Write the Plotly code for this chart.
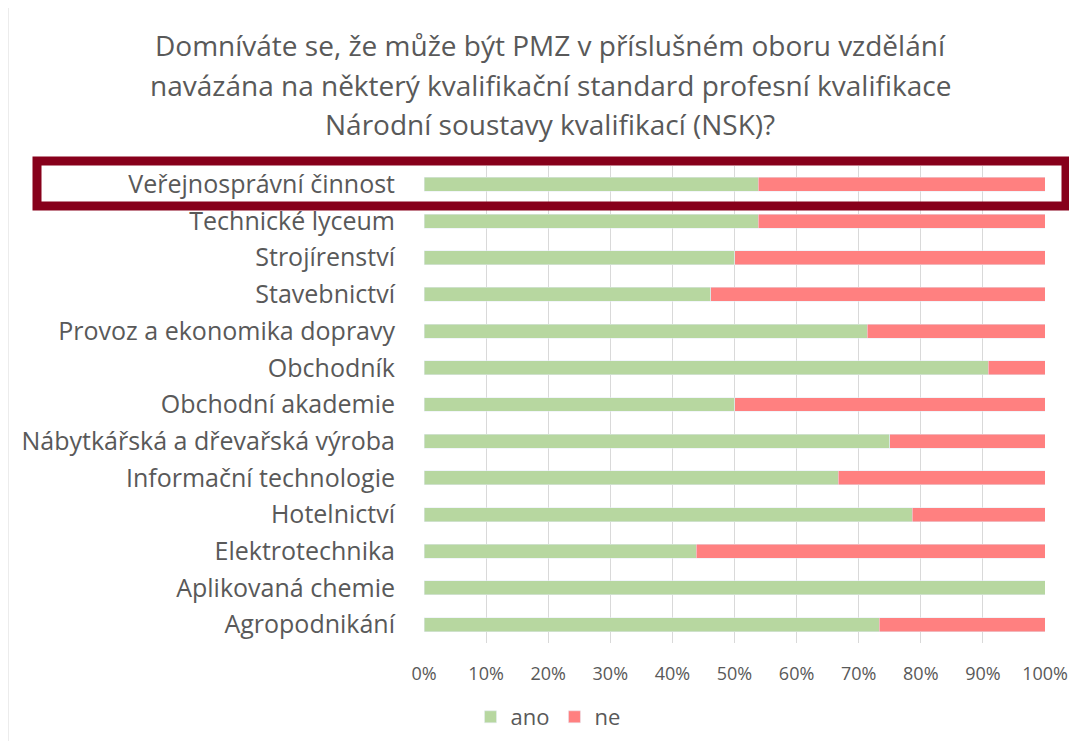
import plotly.graph_objects as go

# data (percent share of answers), bottom to top
obory = [
    "Agropodnikání",
    "Aplikovaná chemie",
    "Elektrotechnika",
    "Hotelnictví",
    "Informační technologie",
    "Nábytkářská a dřevařská výroba",
    "Obchodní akademie",
    "Obchodník",
    "Provoz a ekonomika dopravy",
    "Stavebnictví",
    "Strojírenství",
    "Technické lyceum",
    "Veřejnosprávní činnost",
]
ano = [73.3, 100.0, 43.8, 78.6, 66.7, 75.0, 50.0, 90.9, 71.4, 46.2, 50.0, 53.8, 53.8]
ne = [100 - v for v in ano]

x_ticks = [0, 10, 20, 30, 40, 50, 60, 70, 80, 90, 100]
x_tick_labels = [f"{t}%" for t in x_ticks]

title_lines = [
    "Domníváte se, že může být PMZ v příslušném oboru vzdělání",
    "navázána na některý kvalifikační standard profesní kvalifikace",
    "Národní soustavy kvalifikací (NSK)?",
]

font_family = "Open Sans"
text_color = "#595959"

# page has an 8px body margin, so the figure is a bit smaller than the window
W, H = 1069, 733
L, R, T, B = 416, 32, 158, 98
plot_w = W - L - R
plot_h = H - T - B


def px_x(x):
    return (x - 8 - L) / plot_w


def px_y(y):
    return (H - B - (y - 8)) / plot_h


fig = go.Figure()
fig.add_trace(go.Bar(y=obory, x=ano, name="ano", orientation="h", marker_color="#B7D7A0"))
fig.add_trace(go.Bar(y=obory, x=ne, name="ne", orientation="h", marker_color="#FF8080"))

fig.update_layout(
    width=W,
    height=H,
    barmode="stack",
    bargap=0.62,
    plot_bgcolor="#FFFFFF",
    paper_bgcolor="#FFFFFF",
    margin=dict(l=L, r=R, t=T, b=B, autoexpand=False),
    font=dict(family=font_family, size=22, color=text_color),
    legend=dict(
        orientation="h",
        x=px_x(548),
        xanchor="center",
        y=px_y(717),
        yanchor="middle",
        font=dict(size=22, color=text_color),
        traceorder="normal",
    ),
    showlegend=True,
)

for line, yc in zip(title_lines, [45, 85, 124]):
    fig.add_annotation(
        text=line,
        xref="paper",
        yref="paper",
        x=px_x(550),
        y=px_y(yc),
        xanchor="center",
        yanchor="middle",
        showarrow=False,
        font=dict(family=font_family, size=28, color=text_color),
    )

fig.update_xaxes(
    range=[0, 100],
    tickvals=x_ticks,
    ticktext=x_tick_labels,
    showgrid=True,
    gridcolor="#D9D9D9",
    gridwidth=1,
    zeroline=False,
    showline=False,
    tickfont=dict(size=18, color=text_color),
    ticklabelstandoff=18,
)
fig.update_yaxes(
    showgrid=False,
    showline=False,
    tickfont=dict(size=25, color=text_color),
    ticklabelstandoff=28,
)

# highlight of the top row
fig.add_shape(
    type="rect",
    xref="paper",
    yref="paper",
    x0=px_x(37),
    x1=px_x(1066),
    y0=px_y(206),
    y1=px_y(161),
    line=dict(color="#87001B", width=9),
    fillcolor="rgba(0,0,0,0)",
)

# chart frame at the left edge
fig.add_shape(
    type="line",
    xref="paper",
    yref="paper",
    x0=px_x(8),
    x1=px_x(8),
    y0=px_y(741),
    y1=px_y(0),
    line=dict(color="#D9D9D9", width=1),
)

fig.write_html("out.html")
